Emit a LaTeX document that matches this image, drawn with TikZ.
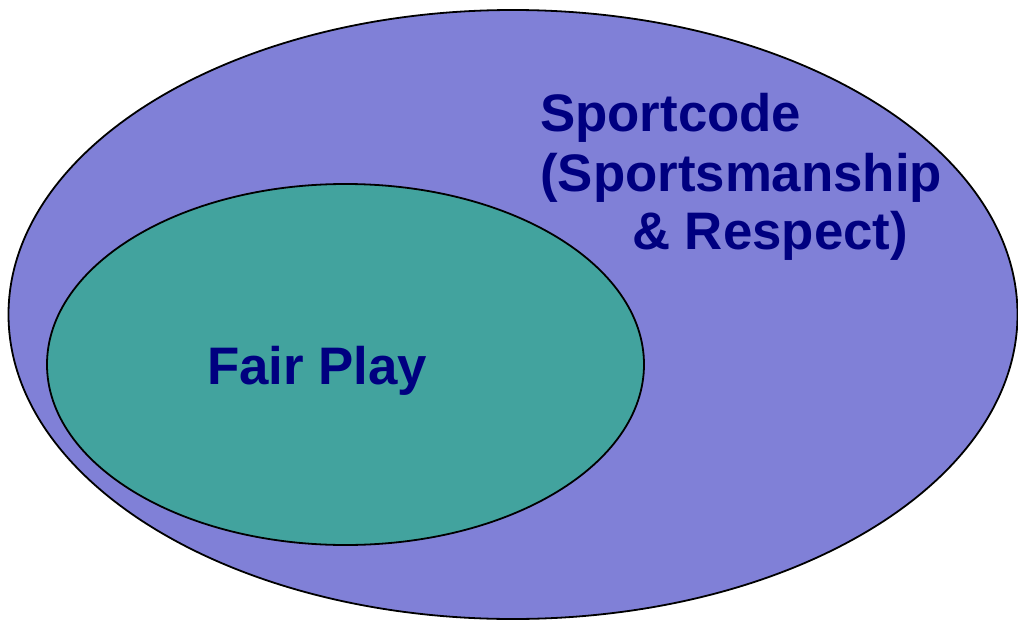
\documentclass[tikz,border=0pt]{standalone}
\usepackage{fontspec}
\setmainfont{Liberation Sans}
\definecolor{outerfill}{RGB}{128,128,215}
\definecolor{innerfill}{RGB}{66,163,158}
\definecolor{navy}{RGB}{0,0,128}
\begin{document}
\begin{tikzpicture}[x=1pt,y=-1pt,
  blob/.style={draw=black,line width=1.8pt},
  lbl/.style={font=\fontsize{52.8}{59}\selectfont\bfseries,text=navy,inner sep=0pt,anchor=base west}]
\useasboundingbox (0,0) rectangle (1018,621);
\fill[outerfill,blob] (513,314.5) ellipse [x radius=504.5, y radius=304.5];
\fill[innerfill,blob] (345.5,364.5) ellipse [x radius=298.5, y radius=180.5];
\node[lbl] (s1) at (540,131) {Sportcode};
\node[lbl] (s2) at (540,191) {(Sportsmanship};
\node[lbl] (s3) at (632,249) {\& Respect)};
\node[lbl] (fp) at (207,384) {Fair Play};
\end{tikzpicture}
\end{document}
